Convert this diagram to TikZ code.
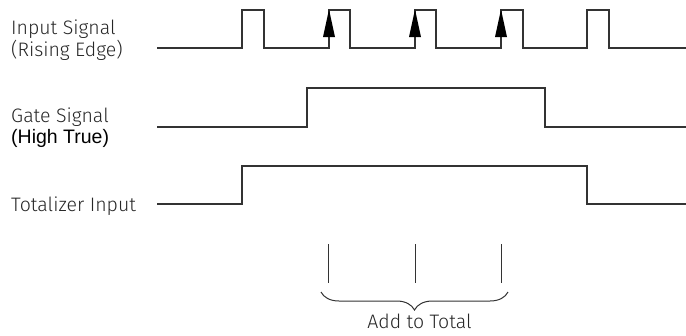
\documentclass[tikz,border=0pt]{standalone}
\usepackage{fontspec}
\usetikzlibrary{decorations.pathreplacing}
\IfFontExistsTF{Fira Sans Light}{\newfontfamily\lightfont{Fira Sans Light}}{\newfontfamily\lightfont{Liberation Sans}}
\newfontfamily\regfont{Liberation Sans}
\begin{document}
\begin{tikzpicture}[x=1pt,y=-1pt,
  wave/.style={line width=1.1pt,draw=black!80,line join=miter},
  tick/.style={line width=1pt,draw=black!80},
  head/.style={fill=black},
  lbl/.style={anchor=base west,inner sep=0pt,font=\lightfont\fontsize{19.5}{22}\selectfont,text=black!85},
  ]
\useasboundingbox (0,0) rectangle (686,335);
% labels
\node[lbl] (l1) at (11,34) {Input Signal};
\node[lbl] (l2) at (11,56) {(Rising Edge)};
\node[lbl] (l3) at (11,122) {Gate Signal};
\node[lbl,font=\regfont\fontsize{19.5}{22}\selectfont,text=black] (l4) at (11,143) {(High True)};
\node[lbl] (l5) at (11,211) {Totalizer Input};
% input signal
\draw[wave] (157,48) -- (242,48) -- (242,10) -- (264,10) -- (264,48)
  -- (329,48) -- (329,10) -- (350,10) -- (350,48)
  -- (415,48) -- (415,10) -- (436,10) -- (436,48)
  -- (501,48) -- (501,10) -- (523,10) -- (523,48)
  -- (587,48) -- (587,10) -- (609,10) -- (609,48) -- (686,48);
% rising-edge arrowheads
\fill[head] (329,9.5) -- (335,37) -- (323,37) -- cycle;
\fill[head] (415,9.5) -- (421,37) -- (409,37) -- cycle;
\fill[head] (501,9.5) -- (507,37) -- (495,37) -- cycle;
% gate signal
\draw[wave] (157,127) -- (307,127) -- (307,88) -- (545,88) -- (545,127) -- (686,127);
% totalizer
\draw[wave] (157,204) -- (242,204) -- (242,166) -- (587,166) -- (587,204) -- (686,204);
% ticks
\coordinate (k1t) at (328,244); \coordinate (k1b) at (328,283);
\coordinate (k2t) at (415,244); \coordinate (k2b) at (415,283);
\coordinate (k3t) at (501,244); \coordinate (k3b) at (501,283);
\draw[tick] (k1t) -- (k1b);
\draw[tick] (k2t) -- (k2b);
\draw[tick] (k3t) -- (k3b);
% brace
\coordinate (bl) at (321,292); \coordinate (br) at (508,292);
\draw[tick,decorate,decoration={brace,amplitude=18pt,mirror}] (bl) -- (br);
\node[anchor=base,inner sep=0pt,font=\lightfont\fontsize{19.5}{22}\selectfont,text=black!85] (sum) at (419.5,328) {Add to Total};
\end{tikzpicture}
\end{document}
